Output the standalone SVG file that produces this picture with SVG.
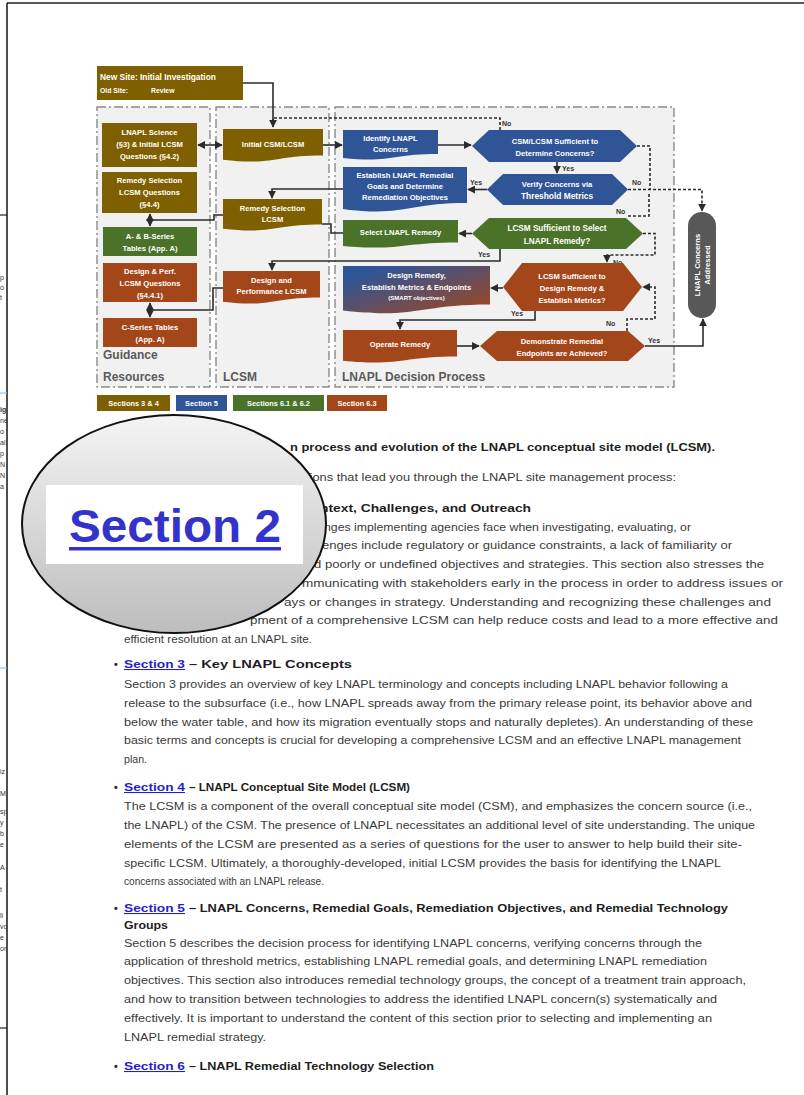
<svg xmlns="http://www.w3.org/2000/svg" width="804" height="1095" viewBox="0 0 804 1095">
<style>
.nt{font-family:"Liberation Sans",Arial,sans-serif;font-size:7.6px;font-weight:bold;fill:#fff;text-anchor:middle}
.lg{font-family:"Liberation Sans",Arial,sans-serif;font-size:7.4px;font-weight:bold;fill:#fff;text-anchor:middle}
.yn{font-family:"Liberation Sans",Arial,sans-serif;font-size:7px;font-weight:bold;fill:#333}
.pl{font-family:"Liberation Sans",Arial,sans-serif;font-size:12px;font-weight:bold;fill:#5a5a5a}
.panel{fill:#f1f1f1;stroke:#8a8a8a;stroke-width:1.4;stroke-dasharray:9 3 2 3}
.gold{fill:#7f6000}.blue{fill:#2f5597}.green{fill:#4a7229}.rust{fill:#a3461a}
.c{fill:none;stroke:#2b2b2b;stroke-width:1.6}
.d{fill:none;stroke:#2b2b2b;stroke-width:1.6;stroke-dasharray:3 2}
.b{font-family:"Liberation Sans",Arial,sans-serif;font-size:10.5px;fill:#3a3a3a}
.h{font-family:"Liberation Sans",Arial,sans-serif;font-size:10.5px;font-weight:bold;fill:#1e1e1e}
.lk{font-family:"Liberation Sans",Arial,sans-serif;font-size:10.5px;font-weight:bold;fill:#1f1fd2;text-decoration:underline}
.fr{font-family:"Liberation Sans",Arial,sans-serif;font-size:7px;fill:#333}
</style>
<defs>
<marker id="ah" viewBox="0 0 10 10" refX="9" refY="5" markerWidth="5" markerHeight="5" orient="auto-start-reverse"><path d="M0,0 L10,5 L0,10 Z" fill="#2b2b2b"/></marker>
<linearGradient id="dr" x1="0" y1="0" x2="1" y2="1"><stop offset="0.15" stop-color="#2f5597"/><stop offset="1" stop-color="#a3461a"/></linearGradient>
<linearGradient id="eg" x1="0" y1="0" x2="0" y2="1"><stop offset="0" stop-color="#f4f4f4"/><stop offset="1" stop-color="#bdbdbd"/></linearGradient>
<clipPath id="lc"><rect x="0" y="0" width="7" height="1095"/></clipPath>
</defs>
<rect width="804" height="1095" fill="#fff"/>
<g id="frame">
<line x1="7" y1="3" x2="804" y2="3" stroke="#222" stroke-width="1.6"/>
<line x1="7" y1="3" x2="7" y2="1095" stroke="#222" stroke-width="1.6"/>
<line x1="0" y1="215" x2="7" y2="215" stroke="#222" stroke-width="1.2"/>
<line x1="0" y1="393" x2="7" y2="393" stroke="#9cc3e5" stroke-width="1.2"/>
<line x1="0" y1="668" x2="7" y2="668" stroke="#9cc3e5" stroke-width="1.2"/>
<line x1="0" y1="1028" x2="7" y2="1028" stroke="#222" stroke-width="1.2"/>
<g clip-path="url(#lc)">
<text class="fr" x="0" y="280">p</text><text class="fr" x="0" y="290">o</text><text class="fr" x="0" y="300">t</text>
<text class="fr" x="0" y="412" font-weight="bold">ig</text><text class="fr" x="0" y="423">ne</text><text class="fr" x="0" y="434">o</text><text class="fr" x="0" y="445">al</text><text class="fr" x="0" y="456">p</text><text class="fr" x="0" y="467">N</text><text class="fr" x="0" y="478">N</text><text class="fr" x="0" y="489">a</text>
<text class="fr" x="0" y="774">iz</text><text class="fr" x="0" y="796">M</text><text class="fr" x="0" y="814">sp</text><text class="fr" x="0" y="825">y</text><text class="fr" x="0" y="836">b</text><text class="fr" x="0" y="847">e</text><text class="fr" x="0" y="870">A</text><text class="fr" x="0" y="892">t</text><text class="fr" x="0" y="918">li</text><text class="fr" x="0" y="929">vo</text><text class="fr" x="0" y="940">e</text><text class="fr" x="0" y="951">or</text>
</g>
</g>
<g id="panels">
<rect class="panel" x="97" y="107" width="113" height="280"/>
<rect class="panel" x="216" y="107" width="113" height="280"/>
<rect class="panel" x="335" y="107" width="339" height="280"/>
<text class="pl" x="103" y="359">Guidance</text>
<text class="pl" x="103" y="381">Resources</text>
<text class="pl" x="223" y="381">LCSM</text>
<text class="pl" x="342" y="381">LNAPL Decision Process</text>
</g>
<g id="connectors">
<path class="c" d="M243,83 H273 V127" marker-end="url(#ah)"/>
<path class="d" d="M500,130 V118 H273 V124"/>
<path class="c" d="M198,145 H222" marker-start="url(#ah)" marker-end="url(#ah)"/>
<path class="c" d="M323,145 H342" marker-end="url(#ah)"/>
<path class="c" d="M438,145 H471" marker-end="url(#ah)"/>
<path class="c" d="M557,162 V173" marker-end="url(#ah)"/>
<path class="c" d="M487,189.5 H468" marker-end="url(#ah)"/>
<path class="c" d="M343,189 H272 V198" marker-end="url(#ah)"/>
<path class="c" d="M223,215 H214 V220 H150"/>
<path class="c" d="M150,214 V226" marker-start="url(#ah)" marker-end="url(#ah)"/>
<path class="d" d="M637,146 H650 V189"/>
<path class="d" d="M628,189.5 H702 V211" marker-end="url(#ah)"/>
<path class="d" d="M628,216 H649 V192"/>
<path class="c" d="M472,233.5 H459" marker-end="url(#ah)"/>
<path class="c" d="M322,224 H331 V233 H343"/>
<path class="c" d="M500,249 V261 H272 V270" marker-end="url(#ah)"/>
<path class="d" d="M643,233.5 H655 V255 H607 V262" marker-end="url(#ah)"/>
<path class="c" d="M503,288 H491" marker-end="url(#ah)"/>
<path class="c" d="M535,311 V320 H400 V329" marker-end="url(#ah)"/>
<path class="d" d="M627,331 V319 H655 V287 H643" marker-end="url(#ah)"/>
<path class="c" d="M457,346 H479" marker-end="url(#ah)"/>
<path class="c" d="M645,346 H703 V319" marker-end="url(#ah)"/>
<path class="c" d="M223,288 H213 V310 H150"/>
<path class="c" d="M150,303 V317" marker-start="url(#ah)" marker-end="url(#ah)"/>
<text class="yn" x="502" y="126">No</text>
<text class="yn" x="562" y="171">Yes</text>
<text class="yn" x="470" y="185">Yes</text>
<text class="yn" x="632" y="185">No</text>
<text class="yn" x="616" y="214">No</text>
<text class="yn" x="478" y="257">Yes</text>
<text class="yn" x="613" y="265">No</text>
<text class="yn" x="511" y="316">Yes</text>
<text class="yn" x="606" y="326">No</text>
<text class="yn" x="648" y="343">Yes</text>
</g>
<g id="n-newsite">
<rect class="gold" x="97" y="66" width="146" height="34"/>
<text class="nt" x="100" y="80" style="text-anchor:start;font-size:8.4px">New Site: Initial Investigation</text>
<text class="nt" x="100" y="93" style="text-anchor:start;font-size:6.8px">Old Site:<tspan x="151">Review</tspan></text>
</g>
<g id="n-science">
<rect class="gold" x="102" y="123" width="95" height="44"/>
<text class="nt" x="149.5" y="135">LNAPL Science</text>
<text class="nt" x="149.5" y="147">(§3) &amp; Initial LCSM</text>
<text class="nt" x="149.5" y="159">Questions (§4.2)</text>
</g>
<g id="n-remq">
<rect class="gold" x="102" y="172" width="95" height="41"/>
<text class="nt" x="149.5" y="183">Remedy Selection</text>
<text class="nt" x="149.5" y="195">LCSM Questions</text>
<text class="nt" x="149.5" y="207">(§4.4)</text>
</g>
<g id="n-abtables">
<rect class="green" x="103" y="227" width="94" height="29"/>
<text class="nt" x="150" y="239">A- &amp; B-Series</text>
<text class="nt" x="150" y="251">Tables (App. A)</text>
</g>
<g id="n-designq">
<rect class="rust" x="103" y="263" width="94" height="39"/>
<text class="nt" x="150" y="274">Design &amp; Perf.</text>
<text class="nt" x="150" y="286">LCSM Questions</text>
<text class="nt" x="150" y="298">(§4.4.1)</text>
</g>
<g id="n-ctables">
<rect class="rust" x="103" y="318" width="94" height="29"/>
<text class="nt" x="150" y="330">C-Series Tables</text>
<text class="nt" x="150" y="342">(App. A)</text>
</g>
<g id="n-initial">
<path class="gold" d="M223,129 H323 V155.4 C273,155.4 273,165.6 223,159.7 Z"/>
<text class="nt" x="273" y="147">Initial CSM/LCSM</text>
</g>
<g id="n-remlcsm">
<path class="gold" d="M223,199 H322 V224.6 C272.5,224.6 272.5,234.5 223,228.8 Z"/>
<text class="nt" x="272.5" y="211">Remedy Selection</text>
<text class="nt" x="272.5" y="222">LCSM</text>
</g>
<g id="n-designlcsm">
<path class="rust" d="M223,271 H320 V297.4 C271.5,297.4 271.5,307.6 223,301.7 Z"/>
<text class="nt" x="271.5" y="283">Design and</text>
<text class="nt" x="271.5" y="294">Performance LCSM</text>
</g>
<g id="n-identify">
<path class="blue" d="M343,130 H438 V154 C390.5,154 390.5,163.3 343,157.9 Z"/>
<text class="nt" x="390.5" y="141">Identify LNAPL</text>
<text class="nt" x="390.5" y="152">Concerns</text>
</g>
<g id="n-d1">
<polygon class="blue" points="472,146 489,130 620,130 637,146 620,162 489,162"/>
<text class="nt" x="555" y="144">CSM/LCSM Sufficient to</text>
<text class="nt" x="555" y="156">Determine Concerns?</text>
</g>
<g id="n-establish">
<path class="blue" d="M343,167 H467 V203 C405,203 405,217 343,208.9 Z"/>
<text class="nt" x="405" y="178">Establish LNAPL Remedial</text>
<text class="nt" x="405" y="189">Goals and Determine</text>
<text class="nt" x="405" y="200">Remediation Objectives</text>
</g>
<g id="n-d2">
<polygon class="blue" points="487,189.5 503,174 612,174 628,189.5 612,205 503,205"/>
<text class="nt" x="557" y="187">Verify Concerns via</text>
<text class="nt" x="557" y="199" style="font-size:8.4px">Threshold Metrics</text>
</g>
<g id="n-select">
<path class="green" d="M343,220 H458 V242.4 C400.5,242.4 400.5,251.1 343,246 Z"/>
<text class="nt" x="400.5" y="235">Select LNAPL Remedy</text>
</g>
<g id="n-d3">
<polygon class="green" points="472,233.5 489,218 626,218 643,233.5 626,249 489,249"/>
<text class="nt" x="557" y="231" style="font-size:8.2px">LCSM Sufficient to Select</text>
<text class="nt" x="557" y="244" style="font-size:8.2px">LNAPL Remedy?</text>
</g>
<g id="n-designrem">
<path fill="url(#dr)" d="M343,266 H490 V304.4 C416.5,304.4 416.5,319.3 343,310.6 Z"/>
<text class="nt" x="416.5" y="278">Design Remedy,</text>
<text class="nt" x="416.5" y="290">Establish Metrics &amp; Endpoints</text>
<text class="nt" x="416.5" y="300" style="font-size:6px">(SMART objectives)</text>
</g>
<g id="n-d4">
<polygon class="rust" points="503,287 522,263 623,263 642,287 623,311 522,311"/>
<text class="nt" x="572" y="279">LCSM Sufficient to</text>
<text class="nt" x="572" y="291">Design Remedy &amp;</text>
<text class="nt" x="572" y="303">Establish Metrics?</text>
</g>
<g id="n-operate">
<path class="rust" d="M343,330 H457 V356.4 C400,356.4 400,366.6 343,360.7 Z"/>
<text class="nt" x="400" y="347">Operate Remedy</text>
</g>
<g id="n-d5">
<polygon class="rust" points="480,346 497,331 628,331 645,346 628,361 497,361"/>
<text class="nt" x="562" y="344">Demonstrate Remedial</text>
<text class="nt" x="562" y="356">Endpoints are Achieved?</text>
</g>
<g id="n-addressed">
<rect x="688" y="212" width="28" height="106" rx="14" fill="#585858"/>
<text class="nt" transform="translate(700,265) rotate(-90)" x="0" y="0">LNAPL Concerns</text>
<text class="nt" transform="translate(710,265) rotate(-90)" x="0" y="0">Addressed</text>
</g>
<g id="legend">
<rect class="gold" x="97" y="395" width="73" height="16"/><text class="lg" x="133.5" y="406">Sections 3 &amp; 4</text>
<rect class="blue" x="176" y="395" width="51" height="16"/><text class="lg" x="201.5" y="406">Section 5</text>
<rect class="green" x="233" y="395" width="91" height="16"/><text class="lg" x="278.5" y="406">Sections 6.1 &amp; 6.2</text>
<rect class="rust" x="327" y="395" width="60" height="16"/><text class="lg" x="357" y="406">Section 6.3</text>
</g>
<g id="body">
<text class="h" x="290" y="451" textLength="425" lengthAdjust="spacingAndGlyphs">n process and evolution of the LNAPL conceptual site model (LCSM).</text>
<text class="b" x="306" y="481" textLength="370" lengthAdjust="spacingAndGlyphs">tions that lead you through the LNAPL site management process:</text>
<text class="h" x="320" y="512" textLength="211" lengthAdjust="spacingAndGlyphs">ntext, Challenges, and Outreach</text>
<text class="b" x="324" y="530.5" textLength="367" lengthAdjust="spacingAndGlyphs">nges implementing agencies face when investigating, evaluating, or</text>
<text class="b" x="322" y="549" textLength="410" lengthAdjust="spacingAndGlyphs">enges include regulatory or guidance constraints, a lack of familiarity or</text>
<text class="b" x="314" y="568" textLength="450" lengthAdjust="spacingAndGlyphs">d poorly or undefined objectives and strategies. This section also stresses the</text>
<text class="b" x="302" y="586.5" textLength="481" lengthAdjust="spacingAndGlyphs">mmunicating with stakeholders early in the process in order to address issues or</text>
<text class="b" x="284" y="605.5" textLength="487" lengthAdjust="spacingAndGlyphs">ays or changes in strategy. Understanding and recognizing these challenges and</text>
<text class="b" x="250" y="624" textLength="528" lengthAdjust="spacingAndGlyphs">pment of a comprehensive LCSM can help reduce costs and lead to a more effective and</text>
<text class="b" x="124" y="643" textLength="188" lengthAdjust="spacingAndGlyphs">efficient resolution at an LNAPL site.</text>
<text class="h" x="114" y="668">•</text>
<text class="lk" x="124" y="668" textLength="61" lengthAdjust="spacingAndGlyphs">Section 3</text>
<text class="h" x="189" y="668" textLength="163" lengthAdjust="spacingAndGlyphs">– Key LNAPL Concepts</text>
<text class="b" x="124" y="688" textLength="604" lengthAdjust="spacingAndGlyphs">Section 3 provides an overview of key LNAPL terminology and concepts including LNAPL behavior following a</text>
<text class="b" x="124" y="707" textLength="628" lengthAdjust="spacingAndGlyphs">release to the subsurface (i.e., how LNAPL spreads away from the primary release point, its behavior above and</text>
<text class="b" x="124" y="726" textLength="629" lengthAdjust="spacingAndGlyphs">below the water table, and how its migration eventually stops and naturally depletes). An understanding of these</text>
<text class="b" x="124" y="744" textLength="617" lengthAdjust="spacingAndGlyphs">basic terms and concepts is crucial for developing a comprehensive LCSM and an effective LNAPL management</text>
<text class="b" x="124" y="763" textLength="23" lengthAdjust="spacingAndGlyphs">plan.</text>
<text class="h" x="114" y="791">•</text>
<text class="lk" x="124" y="791" textLength="61" lengthAdjust="spacingAndGlyphs">Section 4</text>
<text class="h" x="189" y="791" textLength="221" lengthAdjust="spacingAndGlyphs">– LNAPL Conceptual Site Model (LCSM)</text>
<text class="b" x="124" y="810" textLength="628" lengthAdjust="spacingAndGlyphs">The LCSM is a component of the overall conceptual site model (CSM), and emphasizes the concern source (i.e.,</text>
<text class="b" x="124" y="829" textLength="631" lengthAdjust="spacingAndGlyphs">the LNAPL) of the CSM. The presence of LNAPL necessitates an additional level of site understanding. The unique</text>
<text class="b" x="124" y="848" textLength="618" lengthAdjust="spacingAndGlyphs">elements of the LCSM are presented as a series of questions for the user to answer to help build their site-</text>
<text class="b" x="124" y="867" textLength="597" lengthAdjust="spacingAndGlyphs">specific LCSM. Ultimately, a thoroughly-developed, initial LCSM provides the basis for identifying the LNAPL</text>
<text class="b" x="124" y="885" textLength="200" lengthAdjust="spacingAndGlyphs">concerns associated with an LNAPL release.</text>
<text class="h" x="114" y="912">•</text>
<text class="lk" x="124" y="912" textLength="61" lengthAdjust="spacingAndGlyphs">Section 5</text>
<text class="h" x="189" y="912" textLength="539" lengthAdjust="spacingAndGlyphs">– LNAPL Concerns, Remedial Goals, Remediation Objectives, and Remedial Technology</text>
<text class="h" x="124" y="929" textLength="44" lengthAdjust="spacingAndGlyphs">Groups</text>
<text class="b" x="124" y="947" textLength="578" lengthAdjust="spacingAndGlyphs">Section 5 describes the decision process for identifying LNAPL concerns, verifying concerns through the</text>
<text class="b" x="124" y="965" textLength="583" lengthAdjust="spacingAndGlyphs">application of threshold metrics, establishing LNAPL remedial goals, and determining LNAPL remediation</text>
<text class="b" x="124" y="984" textLength="622" lengthAdjust="spacingAndGlyphs">objectives. This section also introduces remedial technology groups, the concept of a treatment train approach,</text>
<text class="b" x="124" y="1003" textLength="593" lengthAdjust="spacingAndGlyphs">and how to transition between technologies to address the identified LNAPL concern(s) systematically and</text>
<text class="b" x="124" y="1022" textLength="588" lengthAdjust="spacingAndGlyphs">effectively. It is important to understand the content of this section prior to selecting and implementing an</text>
<text class="b" x="124" y="1041" textLength="142" lengthAdjust="spacingAndGlyphs">LNAPL remedial strategy.</text>
<text class="h" x="114" y="1070">•</text>
<text class="lk" x="124" y="1070" textLength="61" lengthAdjust="spacingAndGlyphs">Section 6</text>
<text class="h" x="189" y="1070" textLength="245" lengthAdjust="spacingAndGlyphs">– LNAPL Remedial Technology Selection</text>
</g>
<g id="callout">
<ellipse cx="174" cy="524" rx="152" ry="109" fill="url(#eg)" stroke="#111" stroke-width="2"/>
<rect x="46" y="485" width="257" height="79" fill="#fff"/>
<text x="69" y="542" font-family="Liberation Sans, Arial, sans-serif" font-size="46" font-weight="bold" fill="#3333cc" textLength="212" lengthAdjust="spacingAndGlyphs">Section 2</text>
<rect x="69" y="547" width="212" height="3.5" fill="#3333cc"/>
</g>
</svg>
